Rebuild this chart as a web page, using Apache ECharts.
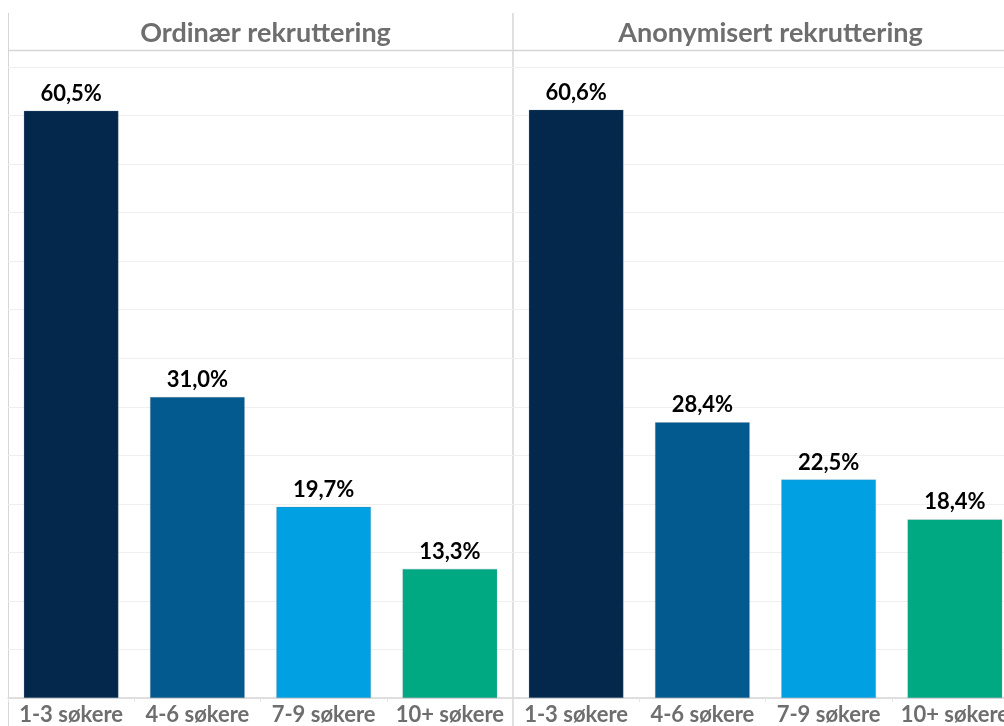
<!DOCTYPE html>
<html>
<head>
<meta charset="utf-8">
<script src="https://cdn.jsdelivr.net/npm/echarts@6/dist/echarts.min.js"></script>
<style>
  html, body { margin: 0; padding: 0; background: #fff; }
  #chart { width: 1004px; height: 726px; }
</style>
</head>
<body>
<div id="chart"></div>
<script>
// data
const categories = ['1-3 søkere', '4-6 søkere', '7-9 søkere', '10+ søkere'];
const panelTitles = ['Ordinær rekruttering', 'Anonymisert rekruttering'];
const ordinaryValues = [60.5, 31.0, 19.7, 13.3];
const anonymousValues = [60.6, 28.4, 22.5, 18.4];
const barColors = ['#03284B', '#025A8F', '#00A0E3', '#00A982'];

const FONT = 'Lato';
const GRAY = '#6e6e6e';
const LINE = '#d6d6d6';

const chart = echarts.init(document.getElementById('chart'));

// panel layout (right panel runs past the edge of the picture)
const panels = [
  { left: 8, right: 491, center: 260.5 },
  { left: 513, right: -14, center: 765.5 }
];
const gridTop = 67;
const gridBottom = 28;

function makeSeriesData(values) {
  return values.map((v, i) => ({
    value: v,
    itemStyle: { color: barColors[i] }
  }));
}

const option = {
  animation: false,
  backgroundColor: '#fff',
  title: panels.map((p, i) => ({
    text: panelTitles[i],
    left: p.center,
    top: 15,
    textAlign: 'center',
    textStyle: { fontFamily: FONT, fontWeight: 'bold', fontSize: 27, color: GRAY }
  })),
  grid: panels.map(p => ({
    left: p.left, right: p.right, top: gridTop, bottom: gridBottom,
    containLabel: false,
    outerBoundsMode: 'none'
  })),
  xAxis: panels.map((p, i) => ({
    type: 'category',
    gridIndex: i,
    data: categories,
    axisLine: { lineStyle: { color: LINE, width: 1.5 } },
    axisTick: { show: true, length: 4, lineStyle: { color: '#e6e6e6' } },
    axisLabel: {
      fontFamily: FONT, fontWeight: 'bold', fontSize: 22, color: GRAY, margin: 6,
      interval: 0, hideOverlap: false
    }
  })),
  yAxis: panels.map((p, i) => ({
    type: 'value',
    gridIndex: i,
    min: 0,
    max: 65,
    interval: 5,
    axisLabel: { show: false },
    axisLine: { show: false },
    axisTick: { show: false },
    splitLine: { lineStyle: { color: '#efefef', width: 1 } }
  })),
  series: [ordinaryValues, anonymousValues].map((vals, i) => ({
    type: 'bar',
    xAxisIndex: i,
    yAxisIndex: i,
    data: makeSeriesData(vals),
    barCategoryGap: '25%',
    itemStyle: { borderColor: 'rgba(120,140,160,0.5)', borderWidth: 0.5 },
    label: {
      show: true,
      position: 'top',
      distance: 6,
      fontFamily: FONT,
      fontWeight: 'bold',
      fontSize: 22,
      color: '#000',
      formatter: p => p.value.toFixed(1).replace('.', ',') + '%'
    }
  })),
  graphic: [
    // panel separators
    { type: 'line', shape: { x1: 8.5, y1: 13, x2: 8.5, y2: 726 }, style: { stroke: LINE, lineWidth: 1 } },
    { type: 'line', shape: { x1: 513, y1: 13, x2: 513, y2: 726 }, style: { stroke: LINE, lineWidth: 1.5 } },
    // title underline
    { type: 'line', shape: { x1: 8, y1: 50.5, x2: 1004, y2: 50.5 }, style: { stroke: LINE, lineWidth: 1.5 } }
  ]
};

chart.setOption(option);
</script>
</body>
</html>
